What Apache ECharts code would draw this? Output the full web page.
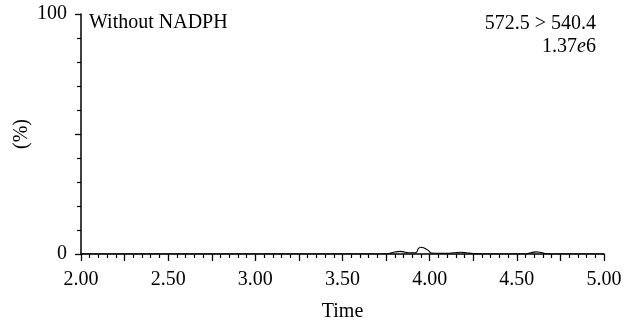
<!DOCTYPE html>
<html>
<head>
<meta charset="utf-8">
<script src="https://cdn.jsdelivr.net/npm/echarts@6/dist/echarts.min.js"></script>
<style>
  html, body { margin: 0; padding: 0; background: #fff; }
  #chart { width: 636px; height: 327px; }
</style>
</head>
<body>
<div id="chart"></div>
<script>
// Retention time (min) and relative intensity (%) for the 572.5 > 540.4 transition
const times = [2.00, 3.70, 3.76, 3.80, 3.83, 3.85, 3.88, 3.91, 3.925, 3.935, 3.948, 3.965, 3.99, 4.01, 4.05, 4.10, 4.14, 4.18, 4.21, 4.25, 4.30, 4.55, 4.58, 4.61, 4.64, 4.67, 4.75, 5.00];
const intensity = [0, 0, 0.1, 0.8, 1.1, 0.9, 0.5, 0.5, 0.8, 2.2, 2.8, 2.6, 1.6, 0.4, 0.3, 0.3, 0.5, 0.7, 0.5, 0.2, 0, 0, 0.5, 0.9, 0.6, 0.1, 0, 0];

const xTickLabels = ['2.00', '2.50', '3.00', '3.50', '4.00', '4.50', '5.00'];
const yTickLabels = ['0', '100'];

const traceName = 'Without NADPH';
const transition = '572.5 > 540.4';
const scaleMantissa = '1.37';
const scaleExp = '6';

const FONT = 'Liberation Serif';
const FS = 20;
const points = times.map((t, i) => [t, intensity[i]]);

const chart = echarts.init(document.getElementById('chart'), null, { renderer: 'canvas' });
chart.setOption({
  animation: false,
  backgroundColor: '#ffffff',
  textStyle: { fontFamily: FONT, color: '#000' },
  grid: { left: 81, right: 32, top: 14, bottom: 73, containLabel: false },
  graphic: [
    {
      type: 'text', left: 89, top: 13,
      style: { text: traceName, font: FS + 'px "' + FONT + '"', fill: '#000' }
    },
    {
      type: 'text', x: 596, y: 14,
      style: {
        text: transition, font: FS + 'px "' + FONT + '"', fill: '#000',
        align: 'right', verticalAlign: 'top'
      }
    },
    {
      type: 'text', x: 596, y: 37,
      style: {
        text: '{n|' + scaleMantissa + '}{i|e}{n|' + scaleExp + '}',
        align: 'right', verticalAlign: 'top',
        rich: {
          n: { fontFamily: FONT, fontSize: FS, fill: '#000' },
          i: { fontFamily: FONT, fontSize: FS, fill: '#000', fontStyle: 'italic' }
        }
      }
    }
  ],
  xAxis: {
    type: 'value',
    min: 2, max: 5, interval: 0.25,
    name: 'Time', nameLocation: 'middle', nameGap: 48,
    nameTextStyle: { fontFamily: FONT, fontSize: FS, color: '#000' },
    axisLine: { onZero: false, lineStyle: { color: '#000', width: 1.5 } },
    axisTick: { show: true, length: 7, lineStyle: { color: '#000', width: 1.3 } },
    minorTick: { show: true, splitNumber: 5, length: 4, lineStyle: { color: '#000', width: 1.2 } },
    splitLine: { show: false },
    axisLabel: {
      margin: 16, fontFamily: FONT, fontSize: FS, color: '#000',
      formatter: v => {
        const s = v.toFixed(2);
        return xTickLabels.indexOf(s) >= 0 ? s : '';
      }
    }
  },
  yAxis: {
    type: 'value',
    min: 0, max: 100, interval: 50,
    name: '(%)', nameLocation: 'middle', nameGap: 49, nameRotate: 90,
    nameMoveOverlap: false,
    nameTextStyle: { fontFamily: FONT, fontSize: FS, color: '#000' },
    axisLine: { show: true, lineStyle: { color: '#000', width: 1.5 } },
    axisTick: { show: true, length: 6, lineStyle: { color: '#000', width: 1.3 } },
    minorTick: { show: true, splitNumber: 5, length: 4, lineStyle: { color: '#000', width: 1.2 } },
    splitLine: { show: false },
    axisLabel: {
      margin: 14, fontFamily: FONT, fontSize: FS, color: '#000',
      formatter: v => yTickLabels.indexOf(String(v)) >= 0 ? String(v) : ''
    }
  },
  series: [{
    type: 'line',
    data: points,
    smooth: 0.4,
    symbol: 'none',
    lineStyle: { color: '#000', width: 1.1 },
    z: 1
  }]
});
</script>
</body>
</html>
